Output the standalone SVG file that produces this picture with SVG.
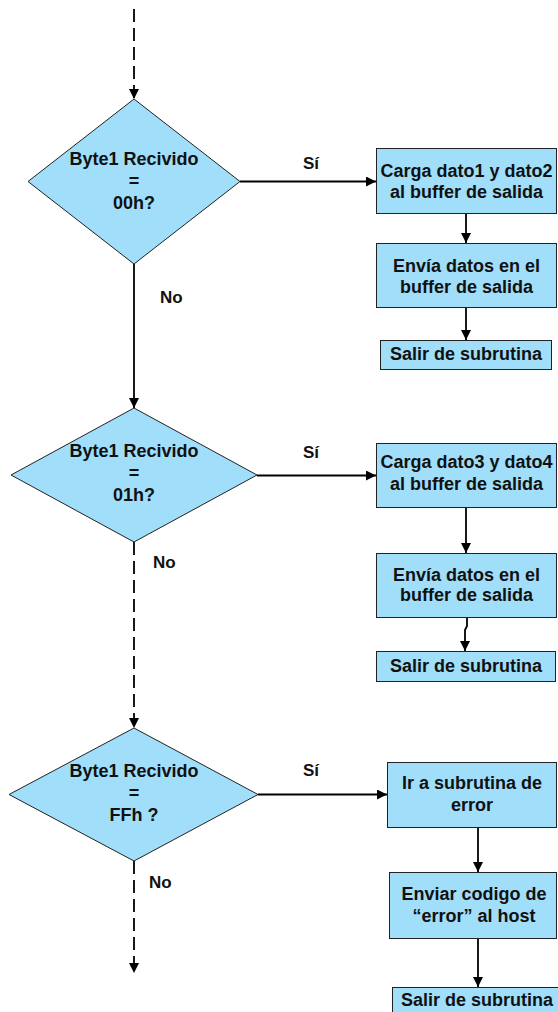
<svg xmlns="http://www.w3.org/2000/svg" width="558" height="1012" viewBox="0 0 558 1012">
<defs>
<style>
.box{fill:#A0DEFA;stroke:#222;stroke-width:1}
.dia{fill:#A0DEFA;stroke:#222;stroke-width:1}
.t{font-family:"Liberation Sans",Arial,sans-serif;font-weight:bold;font-size:18px;fill:#111;text-anchor:middle}
.lbl{font-family:"Liberation Sans",Arial,sans-serif;font-weight:bold;font-size:17px;fill:#111}
.c{fill:none;stroke:#000;stroke-width:1.8}
.d{stroke-dasharray:13 6}
</style>
<marker id="ah" markerUnits="userSpaceOnUse" markerWidth="11" markerHeight="11" refX="10" refY="5" orient="auto">
<path d="M0,0 L10,5 L0,10 Z" fill="#000"/>
</marker>
</defs>
<rect width="558" height="1012" fill="#fff"/>

<g id="connectors">
<line class="c d" x1="134" y1="9" x2="134" y2="99" marker-end="url(#ah)"/>
<line class="c" x1="240" y1="181.5" x2="376" y2="181.5" marker-end="url(#ah)"/>
<line class="c" x1="466" y1="214" x2="466" y2="243" marker-end="url(#ah)"/>
<line class="c" x1="466" y1="308" x2="466" y2="340" marker-end="url(#ah)"/>
<line class="c" x1="134" y1="264" x2="134" y2="408" marker-end="url(#ah)"/>
<line class="c" x1="257" y1="475.5" x2="376" y2="475.5" marker-end="url(#ah)"/>
<line class="c" x1="466" y1="508" x2="466" y2="553" marker-end="url(#ah)"/>
<polyline class="c" points="467,618 467,626 465,630 465,651" marker-end="url(#ah)"/>
<line class="c d" x1="134" y1="542" x2="134" y2="728" marker-end="url(#ah)"/>
<line class="c" x1="258" y1="794.5" x2="387" y2="794.5" marker-end="url(#ah)"/>
<line class="c" x1="478" y1="828" x2="478" y2="872" marker-end="url(#ah)"/>
<line class="c" x1="478" y1="939" x2="478" y2="987" marker-end="url(#ah)"/>
<line class="c d" x1="134" y1="861" x2="134" y2="973" marker-end="url(#ah)"/>
<text class="lbl" x="303" y="169">Sí</text>
<text class="lbl" x="160" y="303">No</text>
<text class="lbl" x="303" y="458">Sí</text>
<text class="lbl" x="153" y="568">No</text>
<text class="lbl" x="303" y="776">Sí</text>
<text class="lbl" x="149" y="888">No</text>
</g>

<g id="dec1">
<polygon class="dia" points="134,99 240,181.5 134,264 28,181.5"/>
<text class="t" x="134" y="165">Byte1 Recivido</text>
<text class="t" x="134" y="187">=</text>
<text class="t" x="134" y="209">00h?</text>
</g>
<g id="box1">
<rect class="box" x="376.5" y="148.5" width="180" height="65"/>
<text class="t" x="466.5" y="177">Carga dato1 y dato2</text>
<text class="t" x="466.5" y="198">al buffer de salida</text>
</g>
<g id="box2">
<rect class="box" x="376.5" y="243.5" width="180" height="64"/>
<text class="t" x="466.5" y="272">Envía datos en el</text>
<text class="t" x="466.5" y="293">buffer de salida</text>
</g>
<g id="box3">
<rect class="box" x="380.5" y="340.5" width="171" height="29"/>
<text class="t" x="466" y="359.5">Salir de subrutina</text>
</g>

<g id="dec2">
<polygon class="dia" points="134,408 257,475 134,542 11,475"/>
<text class="t" x="134" y="457">Byte1 Recivido</text>
<text class="t" x="134" y="479">=</text>
<text class="t" x="134" y="501">01h?</text>
</g>
<g id="box4">
<rect class="box" x="376.5" y="443.5" width="180" height="64"/>
<text class="t" x="466.5" y="468">Carga dato3 y dato4</text>
<text class="t" x="466.5" y="490">al buffer de salida</text>
</g>
<g id="box5">
<rect class="box" x="376.5" y="553.5" width="180" height="64"/>
<text class="t" x="466.5" y="581">Envía datos en el</text>
<text class="t" x="466.5" y="601">buffer de salida</text>
</g>
<g id="box6">
<rect class="box" x="376.5" y="651.5" width="179" height="30"/>
<text class="t" x="466" y="671.5">Salir de subrutina</text>
</g>

<g id="dec3">
<polygon class="dia" points="134,728 258,794.5 134,861 9,794.5"/>
<text class="t" x="134" y="777">Byte1 Recivido</text>
<text class="t" x="134" y="799">=</text>
<text class="t" x="134" y="821">FFh ?</text>
</g>
<g id="box7">
<rect class="box" x="387.5" y="762.5" width="169" height="65"/>
<text class="t" x="472" y="789">Ir a subrutina de</text>
<text class="t" x="472" y="811">error</text>
</g>
<g id="box8">
<rect class="box" x="389.5" y="872.5" width="167" height="66"/>
<text class="t" x="474" y="900">Enviar codigo de</text>
<text class="t" x="474" y="922">“error” al host</text>
</g>
<g id="box9">
<rect class="box" x="392.5" y="987.5" width="170" height="30"/>
<text class="t" x="477" y="1006">Salir de subrutina</text>
</g>
</svg>
